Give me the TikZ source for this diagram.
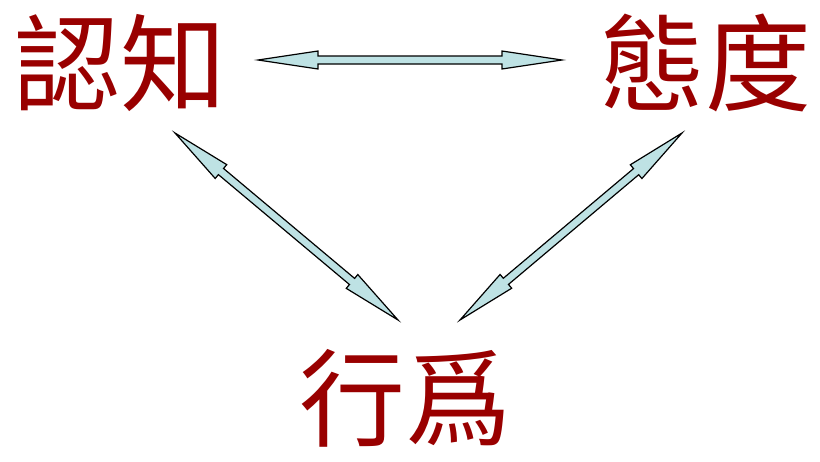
\documentclass[tikz,border=0pt]{standalone}
\usepackage{fontspec}
\newfontfamily\cjk{Noto Sans CJK TC}
\usetikzlibrary{calc}
\definecolor{termred}{RGB}{153,0,0}
\definecolor{arrowfill}{RGB}{190,226,228}
\tikzset{
  termtext/.style={font=\cjk\fontsize{106}{106}\selectfont, text=termred, inner sep=0pt},
  blockarrow/.style={draw=black, line width=1.2pt, fill=arrowfill, line join=miter}
}
% two-headed block arrow between two named points
\newcommand{\twowayarrow}[2]{%
  \path[blockarrow] let \p1=($(#2)-(#1)$), \n1={atan2(\y1,\x1)}, \n2={veclen(\x1,\y1)} in
    [shift={(#1)}, rotate=\n1]
    (0pt,0pt) -- (60pt,9pt) -- (60pt,4pt) -- (\n2-60pt,4pt) -- (\n2-60pt,9pt) -- (\n2,0pt)
    -- (\n2-60pt,-9pt) -- (\n2-60pt,-4pt) -- (60pt,-4pt) -- (60pt,-9pt) -- cycle;}

\begin{document}
\begin{tikzpicture}[x=1pt,y=-1pt]
\useasboundingbox (0,0) rectangle (820,461);

\node[termtext] (cognition) at (121,63) {認知};
\node[termtext] (attitude) at (705,63) {態度};
\node[termtext] (behavior) at (405,398) {行爲};

\coordinate (cogR) at (258,60);
\coordinate (attL) at (562,60);
\coordinate (cogB) at (175,133);
\coordinate (behL) at (398,320);
\coordinate (attB) at (682,133);
\coordinate (behR) at (460,320);

\twowayarrow{cogR}{attL}
\twowayarrow{cogB}{behL}
\twowayarrow{attB}{behR}
\end{tikzpicture}
\end{document}
